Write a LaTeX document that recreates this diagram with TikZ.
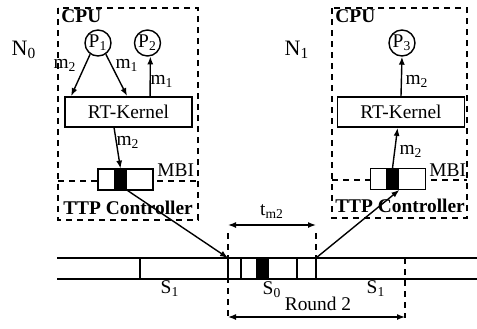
\documentclass[tikz,border=0pt]{standalone}
\usepackage{fontspec}
\setmainfont{Liberation Serif}
\usetikzlibrary{arrows.meta,calc}
\tikzset{
  lbl/.style={font=\fontsize{9.7}{11}\selectfont,inner sep=0pt},
  hdr/.style={lbl,font=\fontsize{9.7}{11}\selectfont\bfseries},
  big/.style={lbl,font=\fontsize{11}{13}\selectfont},
  proc/.style={draw,circle,line width=0.7pt,minimum size=13pt,inner sep=0pt,lbl},
  kern/.style={draw,line width=0.9pt,minimum width=63.5pt,minimum height=15pt,inner sep=0pt,lbl},
  mbi/.style={draw,fill=white,line width=0.9pt,minimum width=27.5pt,minimum height=10.5pt,inner sep=0pt},
  blk/.style={fill=black,minimum width=6.5pt,minimum height=10.5pt,inner sep=0pt},
  node box/.style={draw,line width=0.8pt,dash pattern=on 3pt off 2.5pt},
  msg/.style={-{Latex[length=4pt,width=3pt]},line width=0.7pt},
  span/.style={{Latex[length=4pt,width=3pt]}-{Latex[length=4pt,width=3pt]},line width=0.7pt}
}
\begin{document}
\begin{tikzpicture}[x=0.5pt,y=-0.5pt]
\useasboundingbox (0,0) rectangle (477,328);
\draw[node box] (58,8) rectangle (198,220);
\draw[node box] (58,181) -- (198,181);
\draw[node box] (332,8) rectangle (467,218);
\draw[node box] (332,180) -- (467,180);
\node[big] (n0) at (24,50) {N\textsubscript{0}};
\node[big] (n1) at (297,50) {N\textsubscript{1}};
\node[hdr,anchor=west] (cpu0) at (61,16) {CPU};
\node[hdr,anchor=west] (cpu1) at (335,16) {CPU};
\node[hdr] (ttp0) at (128,208) {TTP Controller};
\node[hdr] (ttp1) at (400,206) {TTP Controller};
\node[proc] (p1) at (98,43) {P\textsubscript{1}};
\node[proc] (p2) at (147.5,43) {P\textsubscript{2}};
\node[proc] (p3) at (402,43) {P\textsubscript{3}};
\node[kern] (k0) at (128.5,112) {RT-Kernel};
\node[kern] (k1) at (401,112) {RT-Kernel};
\node[mbi] (mbi0) at (125.5,179.5) {};
\node[blk] (blk0) at (120.5,179.5) {};
\node[lbl,anchor=west] (mbl0) at (157,170) {MBI};
\node[mbi] (mbi1) at (398,179) {};
\node[blk] (blk1) at (392.5,179) {};
\node[lbl,anchor=west] (mbl1) at (429,170) {MBI};
\draw[msg] (p1.235) -- ($(k0.north west)+(7,0)$);
\draw[msg] (p1.305) -- ($(k0.north west)+(63,0)$);
\draw[msg] ($(k0.north west)+(86,0)$) -- (p2.282);
\draw[msg] ($(k0.south west)+(50,0)$) -- (blk0.north);
\draw[msg] (blk1.north) -- ($(k1.south west)+(61,0)$);
\draw[msg] (k1.north) -- (p3.south);
\node[lbl] (ma) at (65,65) {m\textsubscript{2}};
\node[lbl] (mb) at (127,65) {m\textsubscript{1}};
\node[lbl] (mc) at (162,81) {m\textsubscript{1}};
\node[lbl] (md) at (128,142) {m\textsubscript{2}};
\node[lbl] (me) at (417,81) {m\textsubscript{2}};
\node[lbl] (mf) at (411,151) {m\textsubscript{2}};
\draw[line width=1pt] (57,258) -- (477,258);
\draw[line width=1pt] (57,279) -- (477,279);
\coordinate (s0a) at (228,258);
\coordinate (s0e) at (316,258);
\coordinate (r2e) at (405,258);
\draw[line width=1pt] (140,258) -- (140,279);
\draw[line width=1pt] (228,258) -- (228,279);
\draw[line width=1pt] (241,258) -- (241,279);
\draw[line width=1pt] (297,258) -- (297,279);
\draw[line width=1pt] (316,258) -- (316,279);
\fill[black] (256,258) rectangle (269,279);
\draw[node box] (228,233) -- (228,318);
\draw[node box] (316,233) -- (316,258);
\draw[node box] (405,258) -- (405,318);
\draw[msg] (blk0.south east) -- (s0a);
\draw[msg] (s0e) -- (blk1.south east);
\draw[span] (228,225) -- (316,225);
\draw[span] (228,317) -- (405,317);
\node[lbl] (tm) at (272,212) {t\textsubscript{m2}};
\node[lbl] (rnd) at (318,304) {Round 2};
\node[lbl] (sa) at (170,289) {S\textsubscript{1}};
\node[lbl] (sb) at (272,290) {S\textsubscript{0}};
\node[lbl] (sc) at (376,289) {S\textsubscript{1}};
\end{tikzpicture}
\end{document}
